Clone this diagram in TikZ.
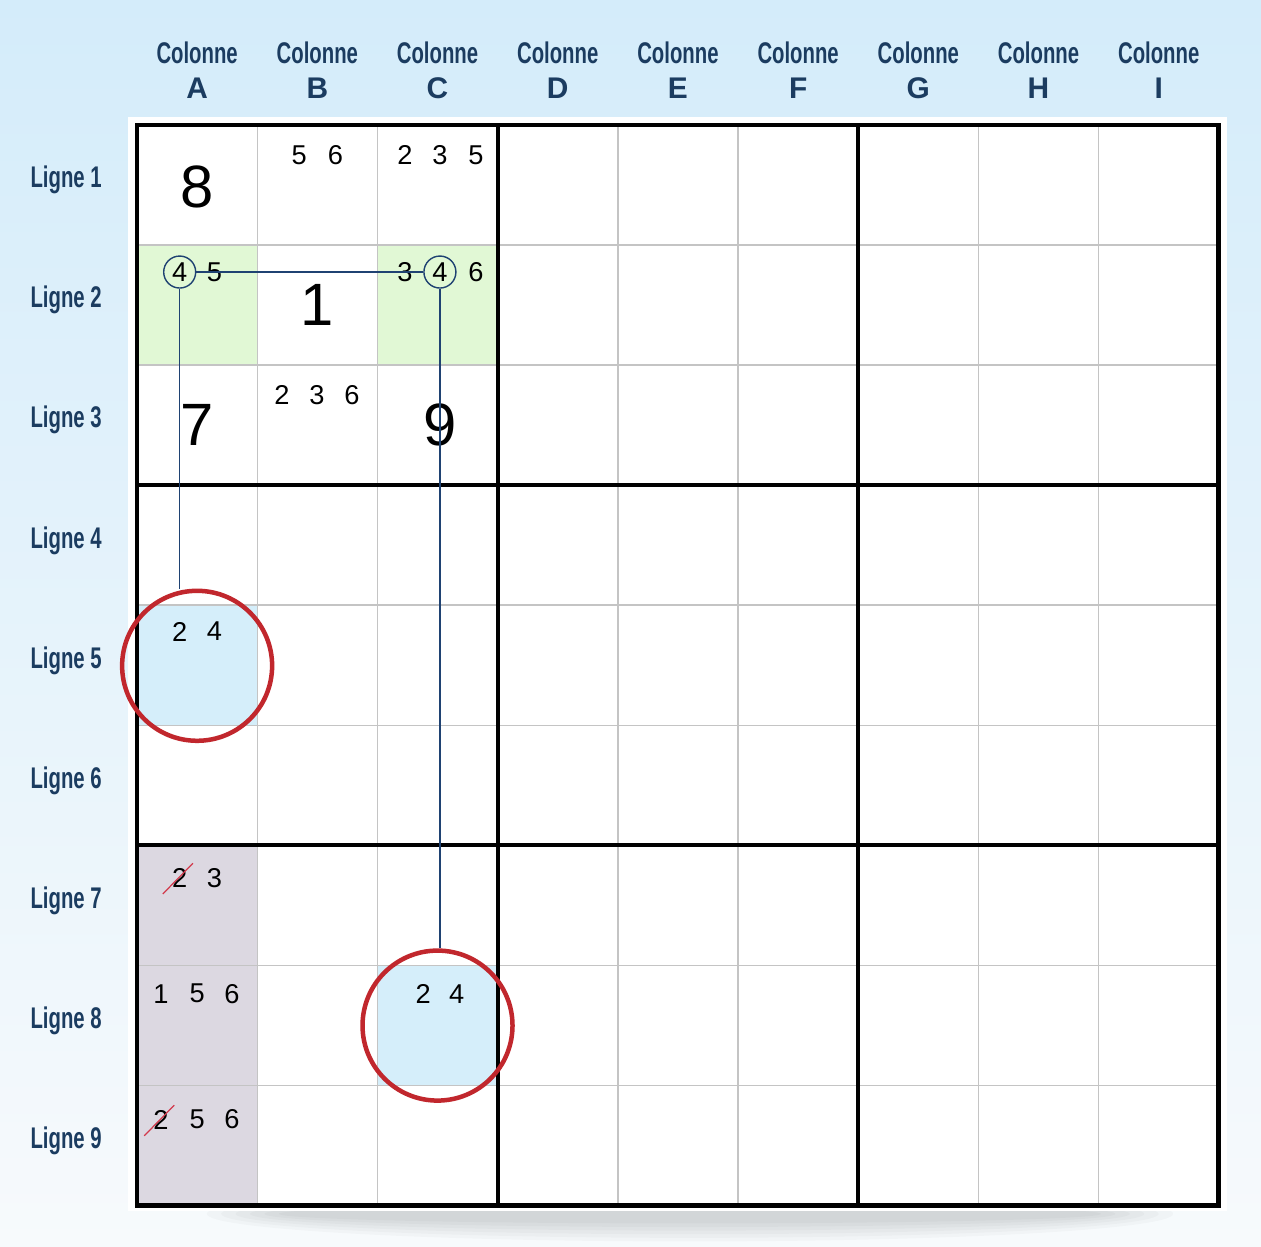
\documentclass[tikz,border=0pt]{standalone}
\usepackage{fontspec}
\setmainfont{Liberation Sans}
\newfontfamily\narrowfont[FakeStretch=0.68]{Liberation Sans}
\usetikzlibrary{positioning, calc}

\definecolor{bgtop}{HTML}{D4ECFA}
\definecolor{bgbottom}{HTML}{F7FAFC}
\definecolor{labelblue}{HTML}{1B3C60}
\definecolor{linkblue}{HTML}{1F4272}
\definecolor{ringred}{HTML}{C1272D}
\definecolor{strikered}{HTML}{D23A4C}
\definecolor{pairgreen}{HTML}{E1F8D5}
\definecolor{targetblue}{HTML}{D5EEFA}
\definecolor{elimgrey}{HTML}{DCD8E1}
\definecolor{gridgrey}{HTML}{C4C4C4}

\tikzset{
	colhead/.style	= {font=\narrowfont\bfseries\fontsize{17}{17}\selectfont, text=labelblue, inner sep=0pt},
	colletter/.style= {font=\bfseries\fontsize{17}{17}\selectfont, text=labelblue, inner sep=0pt},
	rowhead/.style	= {font=\narrowfont\bfseries\fontsize{17}{17}\selectfont, text=labelblue, inner sep=0pt},
	given/.style	= {font=\fontsize{34}{34}\selectfont, inner sep=0pt},
	cand/.style		= {font=\fontsize{15.5}{15.5}\selectfont, inner sep=0pt},
	ring/.style		= {circle, draw=linkblue, line width=0.8pt, minimum size=0.64cm, inner sep=0pt, font=\fontsize{15.5}{15.5}\selectfont},
	target/.style	= {circle, draw=ringred, line width=0.09cm, minimum size=3cm, inner sep=0pt},
	link/.style		= {draw=linkblue, line width=0.9pt},
	strike/.style	= {draw=strikered, line width=0.7pt},
	thinline/.style	= {draw=gridgrey, line width=0.8pt},
	boxline/.style	= {draw=black, line width=2.3pt},
}

\begin{document}
\begin{tikzpicture}[x=2.404cm, y=-2.401cm]
			% background and frame
			\fill	[top color=bgtop, bottom color=bgbottom]	(-1.14, -1.041) rectangle (9.351, 9.342);
			\useasboundingbox	(-1.14, -1.041) rectangle (9.351, 9.342);
			\foreach \k in {1,...,6}
				\fill	[black, opacity=0.022]	(4.6, 9.07) ellipse ({3.3+0.12*\k} and {0.05+0.03*\k});
			\fill	[white]	(-0.075, -0.07) rectangle (9.07, 9.05);

			% headers
			\foreach \c [count=\i] in {A,B,C,D,E,F,G,H,I} {
				\node	(col\c)	at	(\i-0.5, -0.6)		[colhead]	{Colonne};
				\node	(let\c)	at	(\i-0.5, -0.305)	[colletter]	{\c};
			}
			\foreach \r in {1,...,9}
				\node	(row\r)	at	(-0.59, \r-0.54)	[rowhead]	{Ligne \r};

			% shaded cells
			\fill	[pairgreen]		(0, 1) rectangle (1, 2);
			\fill	[pairgreen]		(2, 1) rectangle (3, 2);
			\fill	[targetblue]	(0, 4) rectangle (1, 5);
			\fill	[targetblue]	(2, 7) rectangle (3, 8);
			\fill	[elimgrey]		(0, 6) rectangle (1, 9);

			% grid
			\foreach \k in {1,2,4,5,7,8} {
				\draw	[thinline]	(\k, 0) -- (\k, 9);
				\draw	[thinline]	(0, \k) -- (9, \k);
			}
			\foreach \k in {3,6} {
				\draw	[boxline]	(\k, 0) -- (\k, 9);
				\draw	[boxline]	(0, \k) -- (9, \k);
			}
			\draw	[line width=2.8pt]	(0, 0) rectangle (9, 9);

			% given digits
			\node	(g8)	at	(0.5, 0.52)	[given]	{8};
			\node	(g1)	at	(1.5, 1.5)	[given]	{1};
			\node	(g7)	at	(0.5, 2.5)	[given]	{7};
			\node	(g9)	at	(2.52, 2.5)	[given]	{9};

			% candidates
			\node	(b1a)	at	(1.35, 0.25)	[cand]	{5};
			\node	(b1b)	at	(1.65, 0.25)	[cand]	{6};
			\node	(c1a)	at	(2.23, 0.25)	[cand]	{2};
			\node	(c1b)	at	(2.52, 0.25)	[cand]	{3};
			\node	(c1c)	at	(2.82, 0.25)	[cand]	{5};
			\node	(ringA2)	at	(0.355, 1.225)	[ring]	{4};
			\node	(a2b)	at	(0.645, 1.225)	[cand]	{5};
			\node	(c2a)	at	(2.23, 1.225)	[cand]	{3};
			\node	(ringC2)	at	(2.52, 1.225)	[ring]	{4};
			\node	(c2c)	at	(2.82, 1.225)	[cand]	{6};
			\node	(b3a)	at	(1.206, 2.25)	[cand]	{2};
			\node	(b3b)	at	(1.497, 2.25)	[cand]	{3};
			\node	(b3c)	at	(1.789, 2.25)	[cand]	{6};
			\node	(a5a)	at	(0.355, 4.22)	[cand]	{2};
			\node	(a5b)	at	(0.645, 4.22)	[cand]	{4};
			\node	(a7a)	at	(0.355, 6.27)	[cand]	{2};
			\node	(a7b)	at	(0.645, 6.27)	[cand]	{3};
			\node	(a8a)	at	(0.2, 7.236)	[cand]	{1};
			\node	(a8b)	at	(0.5, 7.236)	[cand]	{5};
			\node	(a8c)	at	(0.79, 7.236)	[cand]	{6};
			\node	(a9a)	at	(0.2, 8.285)	[cand]	{2};
			\node	(a9b)	at	(0.5, 8.285)	[cand]	{5};
			\node	(a9c)	at	(0.79, 8.285)	[cand]	{6};
			\node	(c8a)	at	(2.38, 7.236)	[cand]	{2};
			\node	(c8b)	at	(2.66, 7.236)	[cand]	{4};

			% crossed out
			\draw	[strike]	(a7a.center) +(-0.14, 0.135) -- +(0.11, -0.12);
			\draw	[strike]	(a9a.center) +(-0.14, 0.135) -- +(0.11, -0.12);

			% target cells
			\node	(targetA5)	at	(0.5, 4.505)	[target]	{};
			\node	(targetC8)	at	(2.5, 7.502)	[target]	{};

			% links
			\draw	[link]	(ringA2.east)	-- (ringC2.west);
			\draw	[link]	(ringA2.south)	-- (ringA2 |- targetA5.north);
			\draw	[link]	(ringC2.south)	-- (ringC2 |- targetC8.north);
		\end{tikzpicture}
\end{document}
